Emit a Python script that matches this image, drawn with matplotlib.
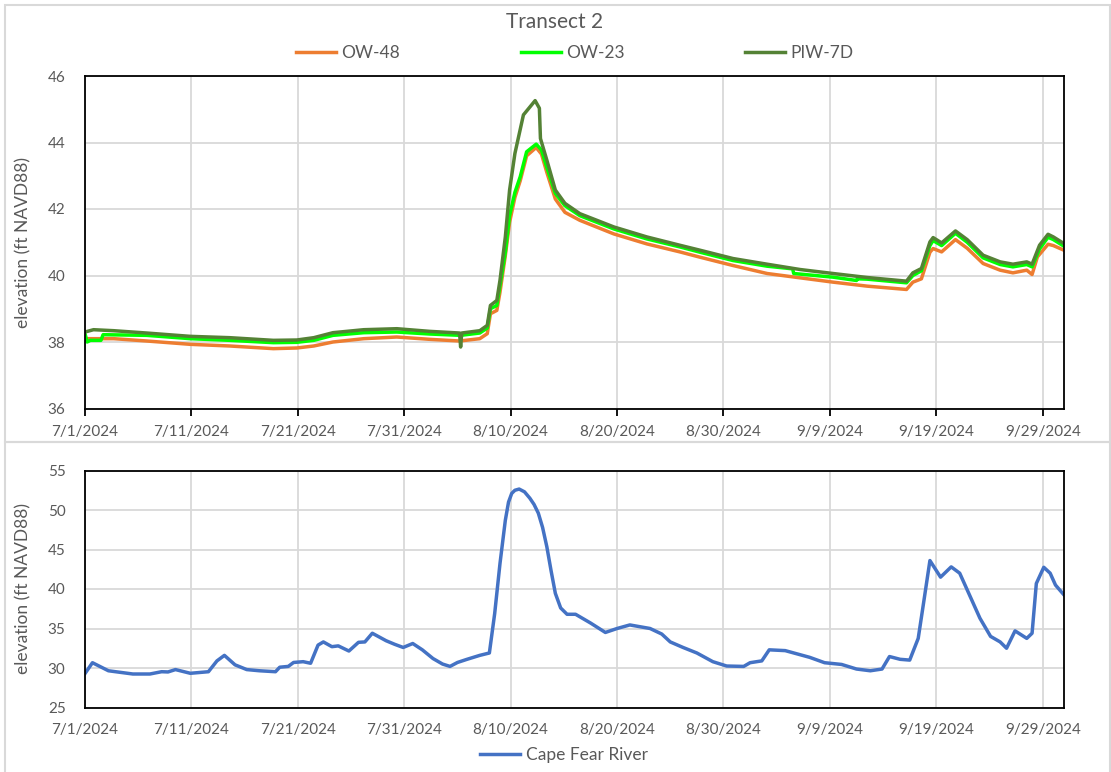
import matplotlib
matplotlib.use("Agg")
import matplotlib.pyplot as plt
from matplotlib.patches import Rectangle

plt.rcParams['font.family'] = ['Lato', 'DejaVu Sans']

# days since 7/1/2024
tick_days = [0, 10, 20, 30, 40, 50, 60, 70, 80, 90]
tick_labels = ['7/1/2024', '7/11/2024', '7/21/2024', '7/31/2024', '8/10/2024',
               '8/20/2024', '8/30/2024', '9/9/2024', '9/19/2024', '9/29/2024']

# groundwater wells (ft NAVD88)
ow48_d = [0, 2.7, 5.8, 9.9, 13.6, 17.7, 19.9, 21.5, 23.3, 26.2, 29.3, 32.4, 35.2,
          37.1, 37.8, 38.1, 38.7, 39.0, 39.5, 39.9, 40.4, 40.9, 41.5, 42.4, 42.9,
          43.4, 44.2, 45.1, 46.5, 49.7, 52.8, 55.9, 57.8, 60.9, 64.1, 67.2, 70.3,
          73.5, 77.2, 77.8, 78.6, 79.4, 79.7, 80.5, 81.8, 82.9, 84.4, 86.0, 87.2,
          88.5, 89.0, 89.5, 90.5, 91.0, 92.0]
ow48_v = [38.1, 38.1, 38.03, 37.93, 37.88, 37.8, 37.82, 37.88, 38.0, 38.1, 38.15,
          38.08, 38.03, 38.1, 38.25, 38.85, 38.95, 39.5, 40.6, 41.6, 42.35, 42.85,
          43.6, 43.85, 43.65, 43.1, 42.3, 41.9, 41.66, 41.25, 40.95, 40.71, 40.55,
          40.3, 40.06, 39.93, 39.8, 39.68, 39.58, 39.8, 39.9, 40.7, 40.81, 40.71,
          41.08, 40.82, 40.36, 40.16, 40.08, 40.16, 40.03, 40.56, 40.94, 40.9, 40.76]

ow23_d = [0, 0.2, 0.5, 1.5, 1.7, 5.8, 9.9, 13.6, 17.7, 19.9, 21.5, 23.3, 26.2,
          29.3, 32.4, 35.3, 37.1, 37.8, 38.1, 38.7, 39.0, 39.5, 39.9, 40.4, 40.9,
          41.5, 42.4, 42.9, 43.4, 44.2, 45.1, 46.5, 49.7, 52.8, 55.9, 57.8, 60.9,
          64.1, 66.5, 66.6, 70.3, 72.5, 72.6, 73.5, 77.2, 77.8, 78.6, 79.4, 79.7,
          80.5, 81.8, 82.9, 84.4, 86.0, 87.2, 88.5, 89.0, 89.7, 90.5, 91.0, 92.0]
ow23_v = [38.25, 38.0, 38.05, 38.05, 38.22, 38.2, 38.1, 38.05, 37.98, 37.99, 38.05,
          38.2, 38.28, 38.3, 38.24, 38.2, 38.27, 38.42, 39.0, 39.1, 39.7, 40.7, 41.8,
          42.5, 42.97, 43.72, 43.95, 43.77, 43.25, 42.47, 42.1, 41.8, 41.4, 41.1,
          40.86, 40.7, 40.45, 40.28, 40.2, 40.06, 39.95, 39.85, 39.9, 39.89, 39.78,
          40.0, 40.14, 40.9, 41.05, 40.9, 41.27, 41.0, 40.53, 40.33, 40.26, 40.33,
          40.26, 40.8, 41.15, 41.08, 40.88]

piw7d_d = [0, 0.8, 2.7, 5.8, 9.9, 13.6, 17.7, 19.9, 21.5, 23.3, 26.2, 29.3, 32.4,
           35.2, 35.3, 35.4, 37.1, 37.8, 38.1, 38.7, 39.0, 39.5, 39.9, 40.4, 41.2,
           42.3, 42.7, 42.8, 43.4, 44.2, 45.1, 46.5, 49.7, 52.8, 55.9, 57.8, 60.9,
           64.1, 67.2, 70.3, 73.5, 77.2, 77.8, 78.6, 79.4, 79.7, 80.5, 81.8, 82.9,
           84.4, 86.0, 87.2, 88.5, 89.0, 89.7, 90.5, 91.0, 92.0]
piw7d_v = [38.3, 38.37, 38.34, 38.27, 38.17, 38.13, 38.05, 38.06, 38.13, 38.28,
           38.37, 38.4, 38.32, 38.27, 37.85, 38.27, 38.34, 38.5, 39.1, 39.25, 39.86,
           41.16, 42.57, 43.67, 44.83, 45.26, 45.03, 44.12, 43.47, 42.57, 42.17,
           41.86, 41.46, 41.16, 40.91, 40.76, 40.51, 40.34, 40.18, 40.06, 39.94,
           39.83, 40.08, 40.21, 41.01, 41.14, 40.98, 41.34, 41.08, 40.61, 40.41,
           40.34, 40.41, 40.34, 40.91, 41.24, 41.16, 40.96]

# river stage (ft NAVD88)
river_d = [0, 0.7, 2.2, 4.5, 6.1, 7.2, 7.8, 8.5, 9.9, 11.6, 12.4, 13.1, 14.1, 15.2,
           16.4, 17.9, 18.3, 19.1, 19.6, 20.5, 21.2, 21.9, 22.4, 23.2, 23.8, 24.8,
           25.7, 26.3, 27.0, 28.3, 29.1, 29.9, 30.8, 31.7, 32.7, 33.6, 34.3, 35.0,
           35.9, 37.1, 38.0, 38.5, 39.0, 39.5, 39.8, 40.1, 40.4, 40.8, 41.3, 41.8,
           42.2, 42.6, 43.0, 43.4, 43.8, 44.2, 44.7, 45.3, 46.1, 47.5, 48.9, 50.0,
           51.2, 53.1, 54.2, 55.0, 56.2, 57.5, 59.0, 60.3, 61.9, 62.5, 63.6, 64.3,
           65.8, 68.1, 69.5, 71.1, 72.5, 73.8, 74.9, 75.6, 76.6, 77.5, 78.3, 78.8,
           79.4, 80.4, 81.4, 82.2, 83.2, 84.1, 85.1, 86.0, 86.6, 87.4, 88.5, 89.0,
           89.4, 90.1, 90.7, 91.2, 92.0]
river_v = [29.3, 30.67, 29.65, 29.24, 29.24, 29.53, 29.5, 29.8, 29.33, 29.53, 30.9,
           31.6, 30.4, 29.8, 29.65, 29.53, 30.1, 30.2, 30.7, 30.8, 30.6, 32.9, 33.3,
           32.7, 32.8, 32.15, 33.25, 33.3, 34.4, 33.45, 33.0, 32.6, 33.1, 32.3, 31.2,
           30.5, 30.2, 30.7, 31.1, 31.6, 31.9, 36.9, 43.25, 48.7, 51.0, 52.1, 52.5,
           52.65, 52.3, 51.5, 50.7, 49.6, 47.8, 45.35, 42.3, 39.45, 37.6, 36.8, 36.8,
           35.7, 34.5, 35.0, 35.45, 35.0, 34.3, 33.3, 32.6, 31.9, 30.8, 30.25, 30.2,
           30.67, 30.9, 32.3, 32.2, 31.35, 30.67, 30.45, 29.87, 29.65, 29.87, 31.45,
           31.1, 31.0, 33.75, 38.2, 43.6, 41.5, 42.8, 42.0, 39.0, 36.3, 34.0, 33.3,
           32.5, 34.7, 33.75, 34.4, 40.7, 42.75, 42.0, 40.5, 39.25]

gray = '#595959'
grid_c = '#D9D9D9'

fig = plt.figure(figsize=(11.11, 7.72), dpi=100)
W, H = 1111, 772

# chart frames
fig.patches.append(Rectangle((5 / W, 1 - 442 / H), 1105 / W, 437 / H,
                             transform=fig.transFigure, fill=False,
                             edgecolor=grid_c, linewidth=1.5))
fig.patches.append(Rectangle((5 / W, -0.01), 1105 / W, 1 - 442 / H + 0.01,
                             transform=fig.transFigure, fill=False,
                             edgecolor=grid_c, linewidth=1.5))

ax1 = fig.add_axes([85 / W, 1 - 408.5 / H, 979 / W, 332.5 / H])
ax2 = fig.add_axes([85 / W, 1 - 707.5 / H, 979 / W, 237 / H])

ax1.plot(ow48_d, ow48_v, color='#ED7D31', lw=2.5, label='OW-48')
ax1.plot(ow23_d, ow23_v, color='#00FF00', lw=2.5, label='OW-23')
ax1.plot(piw7d_d, piw7d_v, color='#548235', lw=2.5, label='PIW-7D')
ax1.set_ylim(36, 46)
ax1.set_yticks([36, 38, 40, 42, 44, 46])

ax2.plot(river_d, river_v, color='#4472C4', lw=2.5, label='Cape Fear River')
ax2.set_ylim(25, 55)
ax2.set_yticks([25, 30, 35, 40, 45, 50, 55])

for ax in (ax1, ax2):
    ax.set_xlim(0, 92)
    ax.set_xticks(tick_days)
    ax.set_xticklabels(tick_labels)
    ax.grid(True, color=grid_c, lw=1.3)
    ax.set_axisbelow(True)
    for s in ax.spines.values():
        s.set_color('black')
        s.set_linewidth(1.3)
    ax.tick_params(axis='y', length=0, pad=14, labelsize=11, labelcolor=gray)
    ax.tick_params(axis='x', labelsize=11, labelcolor=gray, pad=7)
    ax.set_ylabel('elevation (ft NAVD88)', fontsize=12.5, color=gray, labelpad=12)

ax1.tick_params(axis='x', direction='out', length=5, width=1.3, color='black')
ax2.tick_params(axis='x', length=0, pad=11)

fig.text(555 / W, 1 - 22 / H, 'Transect 2', ha='center', va='center',
         fontsize=15, color=gray)
fig.legend(handles=ax1.get_lines(), loc='center', bbox_to_anchor=(575 / W, 1 - 53 / H),
           ncol=3, frameon=False, fontsize=12.5, labelcolor=gray, handlelength=2.3,
           handletextpad=0.3, columnspacing=6.95)
fig.legend(handles=ax2.get_lines(), loc='center', bbox_to_anchor=(564 / W, 1 - 755 / H),
           frameon=False, fontsize=12.5, labelcolor=gray, handlelength=2.3,
           handletextpad=0.3)

fig.savefig('out.png', dpi=100)
